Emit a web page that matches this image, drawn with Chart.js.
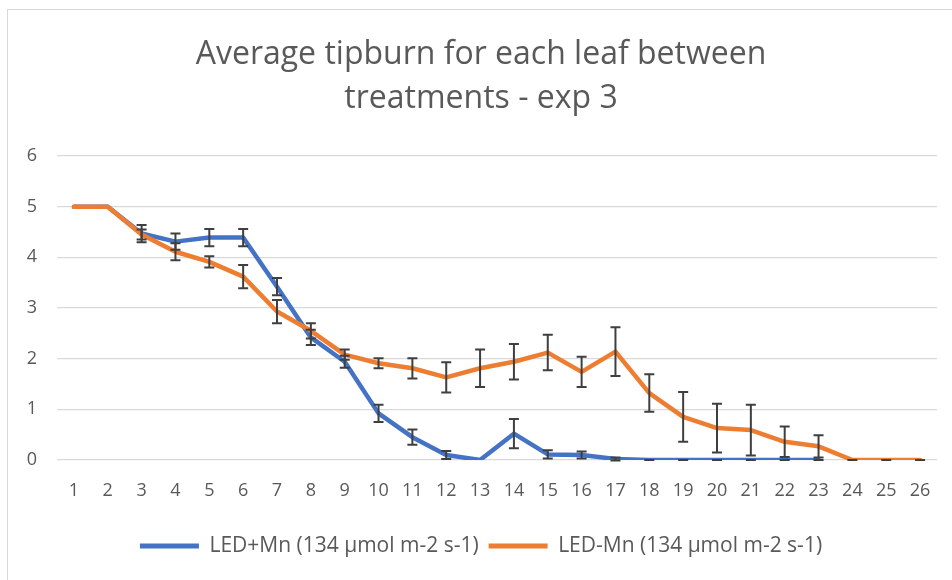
<!DOCTYPE html>
<html><head><meta charset="utf-8">
<script src="https://cdn.jsdelivr.net/npm/chart.js@4/dist/chart.umd.min.js"></script>
<style>
html,body{margin:0;padding:0;background:#fff;width:952px;height:580px;overflow:hidden}
#frame{position:absolute;left:7px;top:9px;width:1000px;height:700px;border:1.5px solid #d9d9d9;box-sizing:border-box}
#wrap{position:absolute;left:0;top:0;width:952px;height:580px}
</style></head><body>
<div id="frame"></div>
<div id="wrap"><canvas id="c" width="952" height="580"></canvas></div>
<script>
const leaves = ['1','2','3','4','5','6','7','8','9','10','11','12','13','14','15','16','17','18','19','20','21','22','23','24','25','26'];
const ledPlusMn = [5,5,4.47,4.31,4.39,4.39,3.42,2.42,1.94,0.92,0.45,0.1,0,0.52,0.11,0.1,0.02,0,0,0,0,0,0,null,null,null];
const ledPlusMnErr = [null,null,0.17,0.16,0.17,0.17,0.17,0.15,0.12,0.17,0.15,0.08,null,0.29,0.08,0.07,0.03,0,0,0,0,0,0,null,null,null];
const ledMinusMn = [5,5,4.45,4.11,3.91,3.62,2.93,2.55,2.08,1.91,1.81,1.63,1.81,1.94,2.12,1.74,2.14,1.32,0.85,0.63,0.59,0.36,0.27,0,0,0];
const ledMinusMnErr = [null,null,0.1,0.17,0.11,0.23,0.23,0.15,0.1,0.1,0.2,0.3,0.37,0.35,0.35,0.3,0.48,0.37,0.49,0.48,0.5,0.3,0.22,0,0,0];
const yTicks = [0,1,2,3,4,5,6];
const titleLines = ['Average tipburn for each leaf between','treatments - exp 3'];
const seriesNames = ['LED+Mn (134 \u00b5mol m-2 s-1)','LED-Mn (134 \u00b5mol m-2 s-1)'];

const errorBars = {
  id:'errorBars',
  afterDatasetsDraw(chart){
    const {ctx, scales:{x,y}} = chart;
    ctx.save();
    ctx.strokeStyle='#3f3f3f';
    ctx.lineWidth=2;
    ctx.lineCap='butt';
    chart.data.datasets.forEach(ds=>{
      const errs = ds.errors; if(!errs) return;
      ds.data.forEach((v,j)=>{
        const e = errs[j];
        if(e==null || v==null) return;
        const px = x.getPixelForValue(j);
        const yt = y.getPixelForValue(v+e), yb = y.getPixelForValue(v-e);
        const cw = 5;
        ctx.beginPath();
        ctx.moveTo(px,yt); ctx.lineTo(px,yb);
        ctx.moveTo(px-cw,yt); ctx.lineTo(px+cw,yt);
        ctx.moveTo(px-cw,yb); ctx.lineTo(px+cw,yb);
        ctx.stroke();
      });
    });
    ctx.restore();
  }
};

const grey = '#595959';
new Chart(document.getElementById('c'), {
  type:'line',
  data:{
    labels: leaves,
    datasets:[
      {label:seriesNames[0], data:ledPlusMn, errors:ledPlusMnErr, borderColor:'#4472C4', backgroundColor:'#4472C4', borderWidth:4.5, pointRadius:0, tension:0, borderJoinStyle:'round', borderCapStyle:'round', order:1, spanGaps:false},
      {label:seriesNames[1], data:ledMinusMn, errors:ledMinusMnErr, borderColor:'#ED7D31', backgroundColor:'#ED7D31', borderWidth:4.5, pointRadius:0, tension:0, borderJoinStyle:'round', borderCapStyle:'round', order:0}
    ]
  },
  options:{
    responsive:false,
    animation:false,
    layout:{padding:{left:25,right:15,top:0,bottom:13.5}},
    plugins:{
      tooltip:{enabled:false},
      title:{display:true, text:titleLines, color:grey, font:{family:'Open Sans', size:32, weight:'400', lineHeight:1.375}, padding:{top:33,bottom:35}},
      legend:{position:'bottom', labels:{
        color:grey, font:{family:'Open Sans', size:21}, boxWidth:59, boxHeight:5, padding:10,
        sort:(a,b)=>a.datasetIndex-b.datasetIndex,
        generateLabels(chart){
          return chart.data.datasets.map((ds,i)=>({text:ds.label, fillStyle:ds.borderColor, strokeStyle:ds.borderColor, lineWidth:0, datasetIndex:i, fontColor:grey}));
        }
      }}
    },
    scales:{
      x:{
        offset:true,
        grid:{display:false, drawTicks:false},
        border:{display:false},
        ticks:{color:grey, font:{family:'Open Sans', size:18}, padding:20, maxRotation:0, autoSkip:false},
        afterFit(s){ s.height = 65.5; }
      },
      y:{
        min:0, max:6,
        grid:{color:'#d9d9d9', lineWidth:1.3, drawTicks:false},
        border:{display:false},
        ticks:{color:grey, font:{family:'Open Sans', size:18}, stepSize:1, padding:20},
        afterBuildTicks(s){ s.ticks = yTicks.map(v=>({value:v})); },
        afterFit(s){ s.width = 32; }
      }
    }
  },
  plugins:[errorBars]
});
</script>
</body></html>
